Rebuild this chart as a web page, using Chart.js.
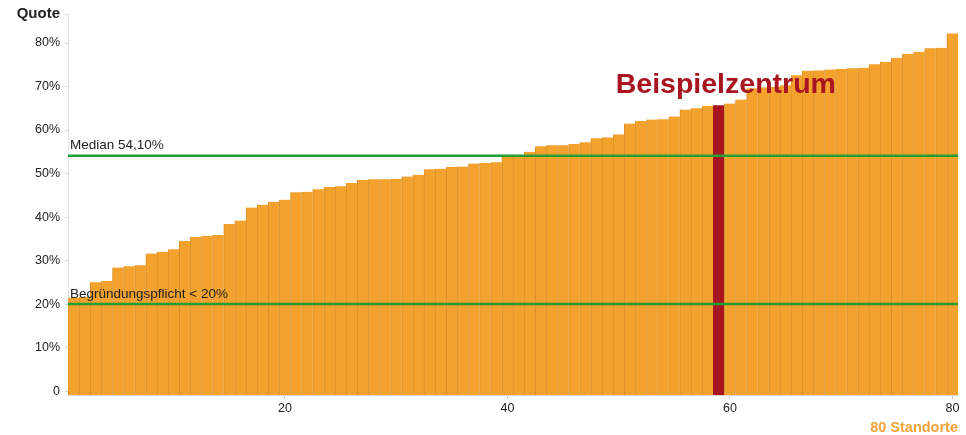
<!DOCTYPE html>
<html>
<head>
<meta charset="utf-8">
<title>Quote je Standort</title>
<script src="https://cdn.jsdelivr.net/npm/chart.js@4/dist/chart.umd.min.js"></script>
<style>
  html, body { margin: 0; padding: 0; background: #fff; }
</style>
</head>
<body>
<canvas id="quoteChart" width="966" height="435"></canvas>
<script>
// Standorte 1..80, sortiert nach Quote
const standorte = [
  1, 2, 3, 4, 5, 6, 7, 8, 9, 10, 11, 12, 13, 14, 15, 16, 17, 18, 19, 20,
  21, 22, 23, 24, 25, 26, 27, 28, 29, 30, 31, 32, 33, 34, 35, 36, 37, 38, 39, 40,
  41, 42, 43, 44, 45, 46, 47, 48, 49, 50, 51, 52, 53, 54, 55, 56, 57, 58, 59, 60,
  61, 62, 63, 64, 65, 66, 67, 68, 69, 70, 71, 72, 73, 74, 75, 76, 77, 78, 79, 80
];

// Quote in %
const quoten = [
  21.4, 21.6, 25.0, 25.3, 28.4, 28.7, 28.9, 31.6, 32.0, 32.6,
  34.5, 35.4, 35.7, 35.9, 38.4, 39.2, 42.2, 42.8, 43.5, 44.0,
  45.7, 45.8, 46.4, 46.9, 47.1, 47.8, 48.5, 48.7, 48.7, 48.8,
  49.3, 49.7, 51.0, 51.1, 51.5, 51.6, 52.3, 52.4, 52.6, 54.0,
  54.2, 55.0, 56.3, 56.5, 56.5, 56.8, 57.2, 58.1, 58.3, 59.0,
  61.5, 62.1, 62.4, 62.5, 63.1, 64.7, 65.0, 65.5, 65.7, 66.1,
  67.0, 69.6, 69.8, 69.9, 70.3, 72.6, 73.6, 73.7, 73.9, 74.0,
  74.2, 74.3, 75.1, 75.7, 76.6, 77.5, 78.0, 78.8, 78.9, 82.2
];

const beispielStandort = 59;

// Referenzlinien
const linienWerte = [54.1, 20];
const linienTexte = ["Median 54,10%", "Begründungspflicht < 20%"];

// Achsenbeschriftung
const yTickWerte = [0, 10, 20, 30, 40, 50, 60, 70, 80];
const xTickTexte = ["20", "40", "60", "80"];

const Y_MIN = -0.9;
const Y_MAX = 86.67;

const ORANGE = "#F2A22D";
const ORANGE_RAND = "#DB912A";
const ROT = "#A8141F";
const GRUEN = "#22A035";
const SCHRIFT = '"Liberation Sans", Arial, sans-serif';

const beispielIndex = standorte.indexOf(beispielStandort);

const referenzLinien = {
  id: "referenzLinien",
  afterDatasetsDraw(chart) {
    const { ctx, chartArea, scales } = chart;
    ctx.save();

    let i = 0;
    while (i < linienWerte.length) {
      const y = scales.y.getPixelForValue(linienWerte[i]);
      ctx.strokeStyle = GRUEN;
      ctx.lineWidth = 2.5;
      ctx.beginPath();
      ctx.moveTo(chartArea.left, y);
      ctx.lineTo(chartArea.right, y);
      ctx.stroke();

      ctx.fillStyle = "#222";
      ctx.font = "13.5px " + SCHRIFT;
      ctx.textAlign = "left";
      ctx.textBaseline = "middle";
      ctx.fillText(linienTexte[i], chartArea.left + 2, y - 10);
      i++;
    }

    // Beschriftung des Beispielzentrums
    const x = scales.x.getPixelForValue(beispielIndex);
    const top = scales.y.getPixelForValue(quoten[beispielIndex]);
    ctx.fillStyle = ROT;
    ctx.font = "bold 28.5px " + SCHRIFT;
    ctx.textAlign = "center";
    ctx.textBaseline = "alphabetic";
    ctx.fillText("Beispielzentrum", x + 7, top - 12);

    ctx.restore();
  },
};

new Chart(document.getElementById("quoteChart"), {
  type: "bar",
  data: {
    labels: standorte,
    datasets: [
      {
        data: quoten,
        backgroundColor: quoten.map((v, i) => (i === beispielIndex ? ROT : ORANGE)),
        borderColor: quoten.map((v, i) => (i === beispielIndex ? ROT : ORANGE_RAND)),
        borderWidth: { left: 1, right: 0, top: 0, bottom: 0 },
        borderSkipped: false,
        barPercentage: 1,
        categoryPercentage: 1,
        base: Y_MIN,
      },
    ],
  },
  options: {
    responsive: false,
    animation: false,
    layout: { padding: { top: 14, right: 8, bottom: 0, left: 0 } },
    plugins: {
      legend: { display: false },
      tooltip: { enabled: false },
    },
    scales: {
      x: {
        grid: {
          offset: false,
          drawOnChartArea: false,
          tickLength: 4,
          tickColor: (ctx) =>
            xTickTexte.includes(String(standorte[ctx.index])) ? "#c8c8c8" : "rgba(0,0,0,0)",
        },
        border: { color: "#d8d8d8" },
        ticks: {
          autoSkip: false,
          maxRotation: 0,
          padding: 2,
          color: "#222",
          font: { family: SCHRIFT, size: 12.5 },
          callback: function (value, index) {
            const txt = String(standorte[index]);
            return xTickTexte.includes(txt) ? txt : "";
          },
        },
        title: {
          display: true,
          text: "80 Standorte",
          align: "end",
          color: "#F2A33A",
          font: { family: SCHRIFT, size: 14.5, weight: "bold", lineHeight: 1 },
          padding: { top: 0, bottom: 0 },
        },
        afterFit(scale) {
          scale.height = 40;
        },
      },
      y: {
        min: Y_MIN,
        max: Y_MAX,
        afterBuildTicks(scale) {
          scale.ticks = yTickWerte.concat([Y_MAX]).map((v) => ({ value: v }));
        },
        afterFit(scale) {
          scale.width = 68;
        },
        grid: {
          drawOnChartArea: false,
          tickLength: 3,
          tickColor: "#d0d0d0",
        },
        border: { color: "#e2e2e2" },
        ticks: {
          autoSkip: false,
          padding: 5,
          color: "#222",
          font: (ctx) =>
            ctx.tick && ctx.tick.value === Y_MAX
              ? { family: SCHRIFT, size: 15, weight: "bold" }
              : { family: SCHRIFT, size: 12.5 },
          callback: function (value) {
            if (value === Y_MAX) return "Quote";
            if (value === 0) return "0";
            return value + "%";
          },
        },
      },
    },
  },
  plugins: [referenzLinien],
});
</script>
</body>
</html>
